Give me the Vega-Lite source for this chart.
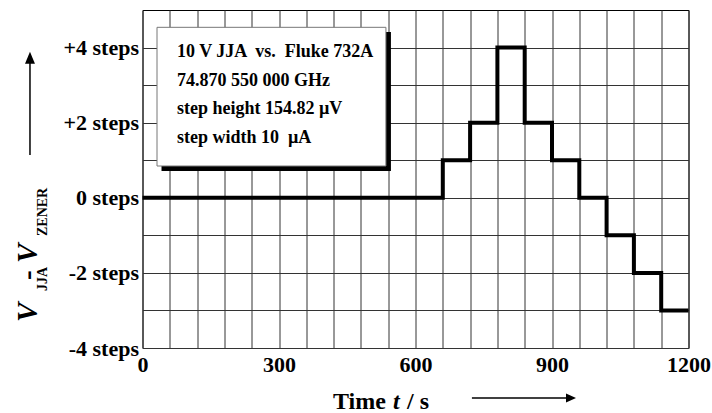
{
  "$schema": "https://vega.github.io/schema/vega-lite/v6.json",
  "width": 546,
  "height": 338,
  "autosize": {"type": "none"},
  "padding": {"left": 142.5, "top": 10, "right": 23.5, "bottom": 65},
  "background": "white",
  "config": {
    "font": "Liberation Serif",
    "view": {"stroke": "black", "strokeWidth": 1}
  },
  "resolve": {"axis": {"x": "independent", "y": "independent"}},
  "layer": [
    {
      "data": {"values": [
        {"t": 0, "v": 0},
        {"t": 660, "v": 1},
        {"t": 720, "v": 2},
        {"t": 780, "v": 4},
        {"t": 840, "v": 2},
        {"t": 900, "v": 1},
        {"t": 960, "v": 0},
        {"t": 1020, "v": -1},
        {"t": 1080, "v": -2},
        {"t": 1140, "v": -3},
        {"t": 1200, "v": -3}
      ]},
      "mark": {"type": "line", "interpolate": "step-after", "color": "black", "strokeWidth": 4, "strokeJoin": "miter", "strokeCap": "butt"},
      "encoding": {
        "x": {
          "field": "t", "type": "quantitative",
          "scale": {"domain": [0, 1200], "nice": false, "zero": false},
          "axis": {
            "values": [0,60,120,180,240,300,360,420,480,540,600,660,720,780,840,900,960,1020,1080,1140,1200],
            "format": "d",
            "labelExpr": "datum.value % 300 == 0 ? datum.label : ''",
            "title": null, "ticks": false, "domain": false,
            "grid": true, "gridColor": "#333", "gridWidth": 1,
            "labelFont": "Liberation Serif", "labelFontSize": 22, "labelFontWeight": "bold",
            "labelColor": "black", "labelPadding": 6, "labelOverlap": false, "labelFlush": false, "labelBound": false
          }
        },
        "y": {
          "field": "v", "type": "quantitative",
          "scale": {"domain": [-4, 5], "nice": false, "zero": false},
          "axis": {
            "values": [-4,-3,-2,-1,0,1,2,3,4],
            "labelExpr": "datum.value % 2 == 0 ? (datum.value > 0 ? '+' : '') + datum.value + ' steps' : ''",
            "title": null, "ticks": false, "domain": false,
            "grid": true, "gridColor": "#333", "gridWidth": 1,
            "labelFont": "Liberation Serif", "labelFontSize": 22, "labelFontWeight": "bold",
            "labelColor": "black", "labelPadding": 4, "labelOverlap": false, "labelFlush": false, "labelBound": false
          }
        }
      }
    },
    {
      "data": {"values": [{}]},
      "mark": {"type": "rect", "color": "black"},
      "encoding": {
        "x": {"datum": 41.8, "type": "quantitative", "axis": null},
        "x2": {"datum": 546},
        "y": {"datum": 4.414, "type": "quantitative", "axis": null},
        "y2": {"datum": 0.712}
      }
    },
    {
      "data": {"values": [{}]},
      "mark": {"type": "rect", "fill": "white", "stroke": "#777", "strokeWidth": 1},
      "encoding": {
        "x": {"datum": 31.9, "type": "quantitative", "axis": null},
        "x2": {"datum": 535},
        "y": {"datum": 4.539, "type": "quantitative", "axis": null},
        "y2": {"datum": 0.846}
      }
    },
    {
      "data": {"values": [{}]},
      "mark": {
        "type": "text",
        "text": ["10 V JJA \u00a0vs. \u00a0Fluke 732A", "74.870 550 000 GHz", "step height 154.82 \u00b5V", "step width 10 \u00a0\u00b5A"],
        "lineHeight": 28.5, "align": "left", "baseline": "alphabetic",
        "font": "Liberation Serif", "fontSize": 18, "fontWeight": "bold", "color": "black"
      },
      "encoding": {
        "x": {"datum": 75.8, "type": "quantitative", "axis": null},
        "y": {"datum": 3.748, "type": "quantitative", "axis": null}
      }
    },
    {
      "data": {"values": [{}]},
      "mark": {"type": "text", "text": "V", "angle": 270, "align": "left", "baseline": "alphabetic", "font": "Liberation Serif", "fontSize": 29, "fontWeight": "bold", "fontStyle": "italic", "color": "black"},
      "encoding": {
        "x": {"datum": -231.9, "type": "quantitative", "axis": null},
        "y": {"datum": -3.309, "type": "quantitative", "axis": null}
      }
    },
    {
      "data": {"values": [{}]},
      "mark": {"type": "text", "text": "JJA", "angle": 270, "align": "left", "baseline": "alphabetic", "font": "Liberation Serif", "fontSize": 14, "fontWeight": "bold", "color": "black"},
      "encoding": {
        "x": {"datum": -209.9, "type": "quantitative", "axis": null},
        "y": {"datum": -2.483, "type": "quantitative", "axis": null}
      }
    },
    {
      "data": {"values": [{}]},
      "mark": {"type": "text", "text": "-", "angle": 270, "align": "left", "baseline": "alphabetic", "font": "Liberation Serif", "fontSize": 29, "fontWeight": "bold", "color": "black"},
      "encoding": {
        "x": {"datum": -231.9, "type": "quantitative", "axis": null},
        "y": {"datum": -2.19, "type": "quantitative", "axis": null}
      }
    },
    {
      "data": {"values": [{}]},
      "mark": {"type": "text", "text": "V", "angle": 270, "align": "left", "baseline": "alphabetic", "font": "Liberation Serif", "fontSize": 29, "fontWeight": "bold", "fontStyle": "italic", "color": "black"},
      "encoding": {
        "x": {"datum": -231.9, "type": "quantitative", "axis": null},
        "y": {"datum": -1.738, "type": "quantitative", "axis": null}
      }
    },
    {
      "data": {"values": [{}]},
      "mark": {"type": "text", "text": "ZENER", "angle": 270, "align": "left", "baseline": "alphabetic", "font": "Liberation Serif", "fontSize": 14, "fontWeight": "bold", "color": "black"},
      "encoding": {
        "x": {"datum": -209.9, "type": "quantitative", "axis": null},
        "y": {"datum": -1.019, "type": "quantitative", "axis": null}
      }
    },
    {
      "data": {"values": [{}]},
      "mark": {"type": "text", "text": "Time", "align": "left", "baseline": "alphabetic", "font": "Liberation Serif", "fontSize": 24, "fontWeight": "bold", "color": "black"},
      "encoding": {
        "x": {"datum": 418.7, "type": "quantitative", "axis": null},
        "y": {"datum": -5.62, "type": "quantitative", "axis": null}
      }
    },
    {
      "data": {"values": [{}]},
      "mark": {"type": "text", "text": "t", "align": "left", "baseline": "alphabetic", "font": "Liberation Serif", "fontSize": 24, "fontWeight": "bold", "fontStyle": "italic", "color": "black"},
      "encoding": {
        "x": {"datum": 550.5, "type": "quantitative", "axis": null},
        "y": {"datum": -5.62, "type": "quantitative", "axis": null}
      }
    },
    {
      "data": {"values": [{}]},
      "mark": {"type": "text", "text": "/ s", "align": "left", "baseline": "alphabetic", "font": "Liberation Serif", "fontSize": 24, "fontWeight": "bold", "color": "black"},
      "encoding": {
        "x": {"datum": 581.3, "type": "quantitative", "axis": null},
        "y": {"datum": -5.62, "type": "quantitative", "axis": null}
      }
    },
    {
      "data": {"values": [{}]},
      "mark": {"type": "rule", "color": "black", "strokeWidth": 1.5},
      "encoding": {
        "x": {"datum": 724, "type": "quantitative", "axis": null},
        "x2": {"datum": 935},
        "y": {"datum": -5.333, "type": "quantitative", "axis": null}
      }
    },
    {
      "data": {"values": [{}]},
      "mark": {"type": "rule", "color": "black", "strokeWidth": 1.5},
      "encoding": {
        "x": {"datum": -247.3, "type": "quantitative", "axis": null},
        "y": {"datum": 1.139, "type": "quantitative", "axis": null},
        "y2": {"datum": 3.67}
      }
    },
    {
      "data": {"values": [{}]},
      "mark": {"type": "point", "shape": "M1,0L-1,0.9L-1,-0.9Z", "size": 100, "filled": true, "color": "black", "opacity": 1},
      "encoding": {
        "x": {"datum": 941.8, "type": "quantitative", "axis": null},
        "y": {"datum": -5.333, "type": "quantitative", "axis": null}
      }
    },
    {
      "data": {"values": [{}]},
      "mark": {"type": "point", "shape": "M0,-1L0.83,1L-0.83,1Z", "size": 144, "filled": true, "color": "black", "opacity": 1},
      "encoding": {
        "x": {"datum": -247.3, "type": "quantitative", "axis": null},
        "y": {"datum": 3.73, "type": "quantitative", "axis": null}
      }
    }
  ]
}
